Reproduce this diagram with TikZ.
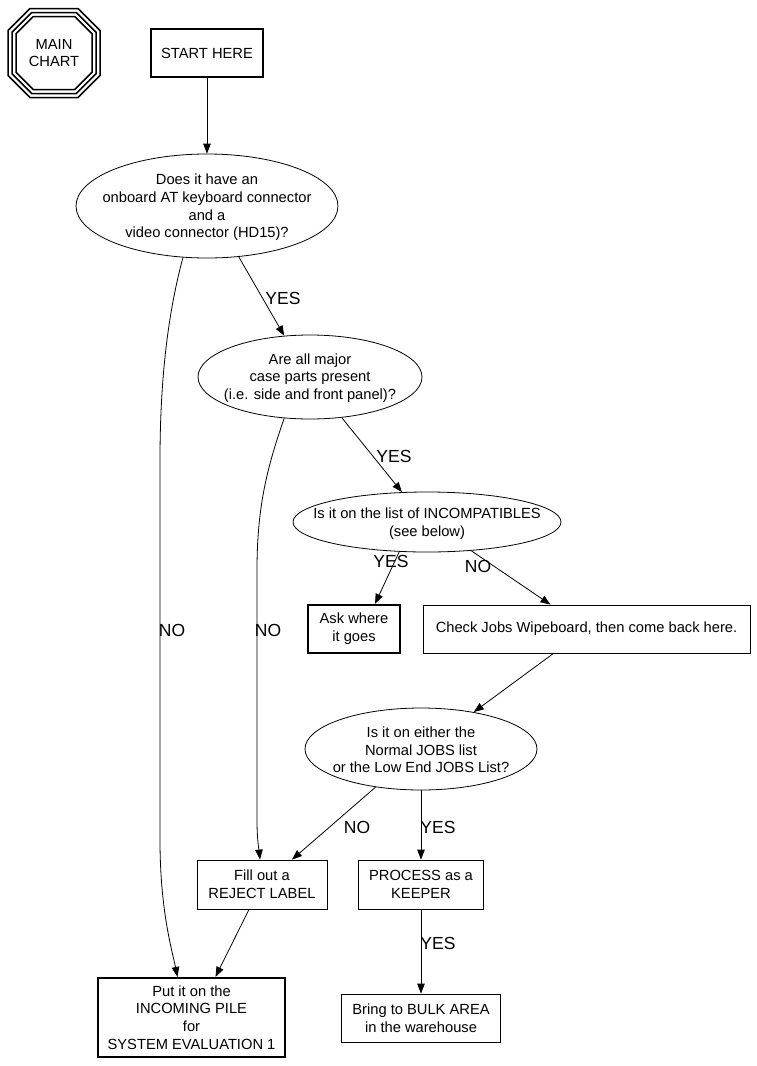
\documentclass[tikz,border=0pt]{standalone}
\usepackage{fontspec}
\setmainfont{Liberation Sans}
\usetikzlibrary{arrows.meta,shapes.geometric}
\begin{document}
\begin{tikzpicture}[x=1pt,y=-1pt,
  every node/.style={font=\fontsize{14.7}{17.7}\selectfont, align=center, inner sep=0pt},
  oval/.style={draw, ellipse, line width=0.8pt},
  box/.style={draw, rectangle, line width=0.8pt},
  thickbox/.style={draw, rectangle, line width=2.2pt},
  octline/.style={line width=1.5pt},
  lbl/.style={font=\fontsize{17.5}{20}\selectfont},
  edge/.style={line width=0.8pt, -{Triangle[length=10pt,width=7.5pt]}},
]
\useasboundingbox (0,0) rectangle (756,1066);

% triple octagon
\node (main) at (54,53) {MAIN\\CHART};
\foreach \d/\c in {0/22,4/19.7,8/17.3} {
  \pgfmathsetmacro{\a}{46-\d}
  \pgfmathsetmacro{\b}{44.5-\d}
  \draw[octline] ({54-\a+\c},{53-\b}) -- ({54+\a-\c},{53-\b}) -- ({54+\a},{53-\b+\c})
    -- ({54+\a},{53+\b-\c}) -- ({54+\a-\c},{53+\b}) -- ({54-\a+\c},{53+\b})
    -- ({54-\a},{53+\b-\c}) -- ({54-\a},{53-\b+\c}) -- cycle;
}

% nodes
\node[thickbox, minimum width=112pt, minimum height=48pt] (start) at (207,53) {START HERE};
\node[oval, minimum width=262pt, minimum height=104pt] (e1) at (207,206) {};
\node (e1t) at (207,207.5)
  {Does it have an\\onboard AT keyboard connector\\and a\\video connector (HD15)?};
\node[oval, minimum width=224pt, minimum height=84pt] (e2) at (310,377) {};
\node (e2t) at (310,378)
  {Are all major\\case parts present\\(i.e. side and front panel)?};
\node[oval, minimum width=268pt, minimum height=60pt] (e3) at (427,522) {};
\node (e3t) at (427,524)
  {Is it on the list of INCOMPATIBLES\\(see below)};
\node[thickbox, minimum width=92pt, minimum height=48pt] (ask) at (354,629) {Ask where\\it goes};
\node[box, minimum width=327pt, minimum height=48pt] (check) at (586.5,629)
  {Check Jobs Wipeboard, then come back here.};
\node[oval, minimum width=232pt, minimum height=82pt] (e4) at (421,749) {};
\node (e4t) at (421,750)
  {Is it on either the\\Normal JOBS list\\or the Low End JOBS List?};
\node[box, minimum width=130pt, minimum height=49pt] (fill) at (262,884.5) {Fill out a\\REJECT LABEL};
\node[box, minimum width=125pt, minimum height=49pt] (proc) at (421,884.5) {PROCESS as a\\KEEPER};
\node[thickbox, minimum width=187pt, minimum height=79pt] (put) at (191.5,1017.5)
  {Put it on the\\INCOMING PILE\\for\\SYSTEM EVALUATION 1};
\node[box, minimum width=159pt, minimum height=48pt] (bulk) at (421,1018)
  {Bring to BULK AREA\\in the warehouse};

% edges
\draw[edge] (start.south) -- (e1.north);
\draw[edge] (e1.302) -- (e2.122);
\draw[edge] (e1.245) .. controls (166,320) and (160,390) .. (160,460) -- (160,840)
  .. controls (160,910) and (172,950) .. ([xshift=-14pt]put.north);
\draw[edge] (e2.308) -- (e3.130);
\draw[edge] (e2.238) .. controls (266,470) and (257,510) .. (257,570) -- (257,820)
  .. controls (257,840) and (259,850) .. ([xshift=-2pt]fill.north);
\draw[edge] (e3.227) -- ([xshift=21pt]ask.north);
\draw[edge] (e3.327) -- ([xshift=-36pt]check.north);
\draw[edge] ([xshift=-33pt]check.south) -- (e4.35);
\draw[edge] (e4.220) -- ([xshift=30pt]fill.north);
\draw[edge] (e4.south) -- (proc.north);
\draw[edge] (proc.south) -- (bulk.north);
\draw[edge] ([xshift=-13pt]fill.south) -- ([xshift=24pt]put.north);

% labels
\node[lbl] (l1) at (283,298) {YES};
\node[lbl] (l2) at (172,630) {NO};
\node[lbl] (l3) at (394,456) {YES};
\node[lbl] (l4) at (268,630) {NO};
\node[lbl] (l5) at (391,561) {YES};
\node[lbl] (l6) at (478,566) {NO};
\node[lbl] (l7) at (357,827) {NO};
\node[lbl] (l8) at (438,827) {YES};
\node[lbl] (l9) at (438,943) {YES};
\end{tikzpicture}
\end{document}
